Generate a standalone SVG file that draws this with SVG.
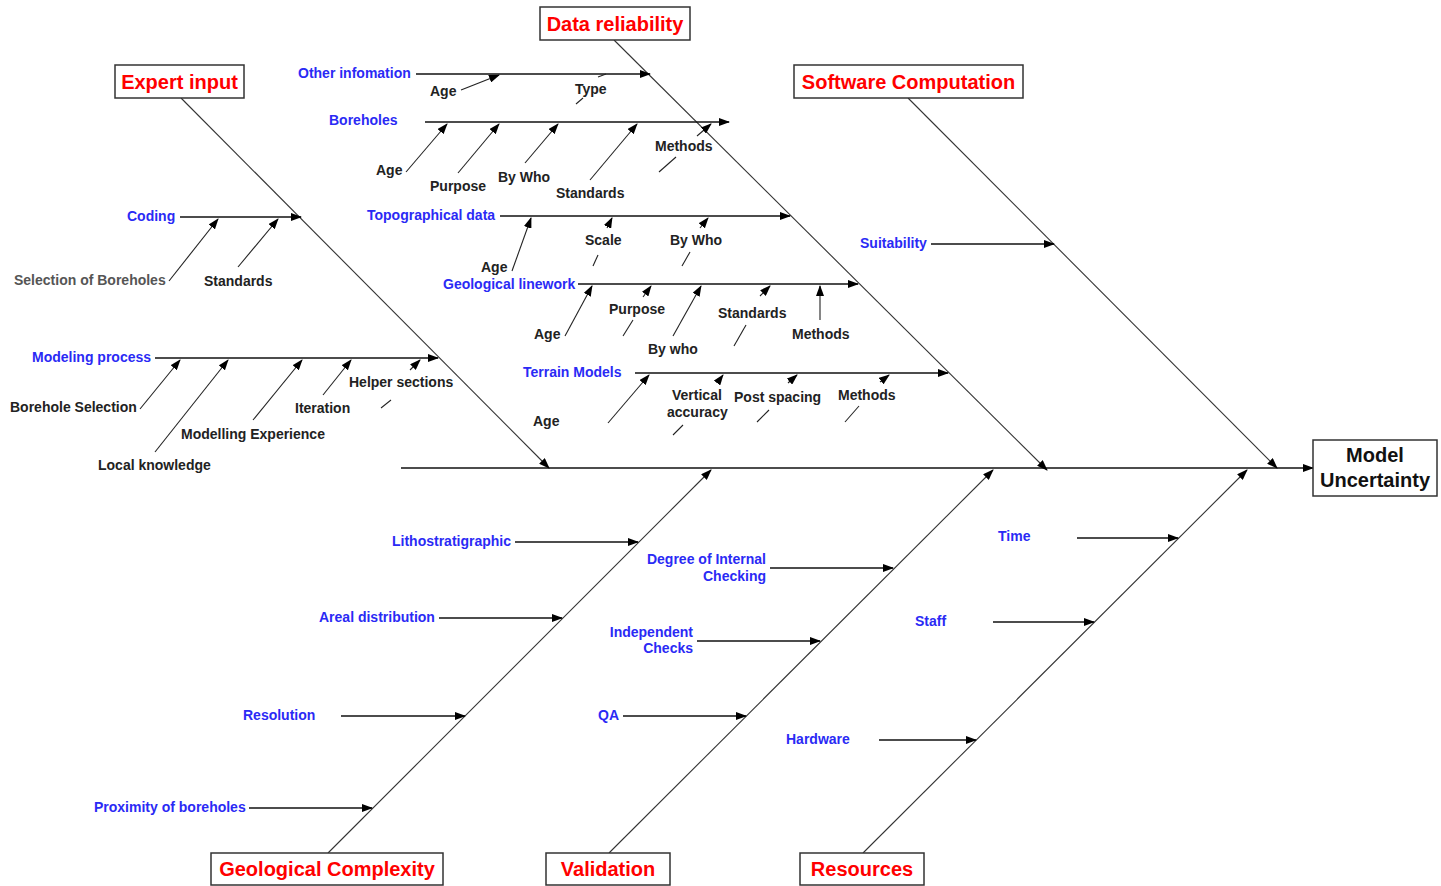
<svg xmlns="http://www.w3.org/2000/svg" width="1441" height="886" viewBox="0 0 1441 886">
<style>
.title{font-family:"Liberation Sans",Arial,sans-serif;font-size:20px;font-weight:bold;fill:#f00;text-anchor:middle}
.box{fill:#fff;stroke:#333;stroke-width:1.5}
.mu{font-family:"Liberation Sans",Arial,sans-serif;font-size:20px;font-weight:bold;fill:#111;text-anchor:middle}
.c{font-family:"Liberation Sans",Arial,sans-serif;font-size:14px;font-weight:bold;fill:#2a2af5}
.s{font-family:"Liberation Sans",Arial,sans-serif;font-size:14px;font-weight:bold;fill:#222}
.g{fill:#555}
.e{text-anchor:end}
.bone{stroke:#333;stroke-width:1.1;fill:none}
.br{stroke:#111;stroke-width:1.5;fill:none}
.sm{stroke:#222;stroke-width:1.1;fill:none}
</style>
<defs>
<marker id="ah" markerUnits="userSpaceOnUse" markerWidth="11" markerHeight="8" refX="10" refY="4" orient="auto">
<path d="M0,0 L11,4 L0,8 z" fill="#000"/>
</marker>
</defs>
<rect width="1441" height="886" fill="#fff"/>
<g id="connectors">
<line class="br" x1="401" y1="468" x2="1313" y2="468" marker-end="url(#ah)"/>
<line class="bone" x1="181" y1="98" x2="549" y2="468" marker-end="url(#ah)"/>
<line class="bone" x1="614" y1="40" x2="1047" y2="470" marker-end="url(#ah)"/>
<line class="bone" x1="908" y1="98" x2="1277" y2="468" marker-end="url(#ah)"/>
<line class="bone" x1="328" y1="853" x2="711" y2="470" marker-end="url(#ah)"/>
<line class="bone" x1="609" y1="853" x2="993" y2="470" marker-end="url(#ah)"/>
<line class="bone" x1="863" y1="853" x2="1247" y2="470" marker-end="url(#ah)"/>
<g marker-end="url(#ah)">
<line class="br" x1="180" y1="217" x2="301" y2="217"/>
<line class="br" x1="155" y1="358" x2="438" y2="358"/>
<line class="br" x1="416" y1="74" x2="650" y2="74"/>
<line class="br" x1="425" y1="122" x2="729" y2="122"/>
<line class="br" x1="500" y1="216" x2="790" y2="216"/>
<line class="br" x1="578" y1="284" x2="858" y2="284"/>
<line class="br" x1="635" y1="373" x2="948" y2="373"/>
<line class="br" x1="931" y1="244" x2="1054" y2="244"/>
<line class="br" x1="515" y1="542" x2="638" y2="542"/>
<line class="br" x1="439" y1="618" x2="562" y2="618"/>
<line class="br" x1="341" y1="716" x2="465" y2="716"/>
<line class="br" x1="249" y1="808" x2="372" y2="808"/>
<line class="br" x1="770" y1="568" x2="893" y2="568"/>
<line class="br" x1="697" y1="641" x2="820" y2="641"/>
<line class="br" x1="623" y1="716" x2="746" y2="716"/>
<line class="br" x1="1077" y1="538" x2="1178" y2="538"/>
<line class="br" x1="993" y1="622" x2="1094" y2="622"/>
<line class="br" x1="879" y1="740" x2="976" y2="740"/>
<line class="sm" x1="169" y1="281" x2="218" y2="219"/>
<line class="sm" x1="238" y1="267" x2="278" y2="219"/>
<line class="sm" x1="140" y1="409" x2="180" y2="360"/>
<line class="sm" x1="155" y1="452" x2="228" y2="360"/>
<line class="sm" x1="253" y1="420" x2="302" y2="360"/>
<line class="sm" x1="323" y1="395" x2="351" y2="360"/>
<line class="sm" x1="410" y1="370" x2="420" y2="360"/>
<line class="sm" x1="461" y1="90" x2="499" y2="75"/>
<line class="sm" x1="406" y1="172" x2="447" y2="124"/>
<line class="sm" x1="458" y1="173" x2="499" y2="124"/>
<line class="sm" x1="525" y1="163" x2="558" y2="124"/>
<line class="sm" x1="590" y1="180" x2="637" y2="124"/>
<line class="sm" x1="697" y1="136" x2="711" y2="124"/>
<line class="sm" x1="512" y1="271" x2="531" y2="218"/>
<line class="sm" x1="607" y1="228" x2="612" y2="218"/>
<line class="sm" x1="700" y1="228" x2="708" y2="218"/>
<line class="sm" x1="565" y1="336" x2="592" y2="286"/>
<line class="sm" x1="643" y1="297" x2="651" y2="286"/>
<line class="sm" x1="673" y1="336" x2="701" y2="286"/>
<line class="sm" x1="760" y1="296" x2="770" y2="286"/>
<line class="sm" x1="820" y1="320" x2="820" y2="286"/>
<line class="sm" x1="608" y1="423" x2="649" y2="375"/>
<line class="sm" x1="717" y1="383" x2="723" y2="375"/>
<line class="sm" x1="788" y1="383" x2="797" y2="375"/>
<line class="sm" x1="880" y1="382" x2="889" y2="375"/>
</g>
<line class="sm" x1="381" y1="408" x2="391" y2="400"/>
<line class="sm" x1="576" y1="104" x2="583" y2="98"/>
<line class="sm" x1="598" y1="77" x2="606" y2="74"/>
<line class="sm" x1="659" y1="172" x2="676" y2="157"/>
<line class="sm" x1="593" y1="266" x2="598" y2="255"/>
<line class="sm" x1="682" y1="266" x2="690" y2="252"/>
<line class="sm" x1="623" y1="336" x2="633" y2="320"/>
<line class="sm" x1="734" y1="346" x2="746" y2="325"/>
<line class="sm" x1="673" y1="435" x2="683" y2="425"/>
<line class="sm" x1="757" y1="422" x2="769" y2="410"/>
<line class="sm" x1="845" y1="422" x2="859" y2="406"/>
</g>
<g id="expert-input"><rect class="box" x="115" y="65" width="129" height="33"/><text class="title" x="179.5" y="89">Expert input</text></g>
<g id="data-reliability"><rect class="box" x="540" y="7" width="150" height="33"/><text class="title" x="615" y="31">Data reliability</text></g>
<g id="software-computation"><rect class="box" x="794" y="65" width="229" height="33"/><text class="title" x="908.5" y="89">Software Computation</text></g>
<g id="geological-complexity"><rect class="box" x="211" y="853" width="232" height="32"/><text class="title" x="327" y="876">Geological Complexity</text></g>
<g id="validation"><rect class="box" x="546" y="853" width="124" height="32"/><text class="title" x="608" y="876">Validation</text></g>
<g id="resources"><rect class="box" x="800" y="853" width="124" height="32"/><text class="title" x="862" y="876">Resources</text></g>
<g id="model-uncertainty"><rect class="box" x="1313" y="440" width="124" height="56"/><text class="mu" x="1375" y="462">Model</text><text class="mu" x="1375" y="487">Uncertainty</text></g>
<g id="expert-causes">
<text class="c" x="127" y="221">Coding</text>
<text class="s g" x="14" y="285">Selection of Boreholes</text>
<text class="s" x="204" y="286">Standards</text>
<text class="c" x="32" y="362">Modeling process</text>
<text class="s" x="10" y="412">Borehole Selection</text>
<text class="s" x="98" y="470">Local knowledge</text>
<text class="s" x="181" y="439">Modelling Experience</text>
<text class="s" x="295" y="413">Iteration</text>
<text class="s" x="349" y="387">Helper sections</text>
</g>
<g id="data-causes">
<text class="c" x="298" y="78">Other infomation</text>
<text class="s" x="430" y="96">Age</text>
<text class="s" x="575" y="94">Type</text>
<text class="c" x="329" y="125">Boreholes</text>
<text class="s" x="376" y="175">Age</text>
<text class="s" x="430" y="191">Purpose</text>
<text class="s" x="498" y="182">By Who</text>
<text class="s" x="556" y="198">Standards</text>
<text class="s" x="655" y="151">Methods</text>
<text class="c" x="367" y="220">Topographical data</text>
<text class="s" x="481" y="272">Age</text>
<text class="s" x="585" y="245">Scale</text>
<text class="s" x="670" y="245">By Who</text>
<text class="c" x="443" y="289">Geological linework</text>
<text class="s" x="534" y="339">Age</text>
<text class="s" x="609" y="314">Purpose</text>
<text class="s" x="648" y="354">By who</text>
<text class="s" x="718" y="318">Standards</text>
<text class="s" x="792" y="339">Methods</text>
<text class="c" x="523" y="377">Terrain Models</text>
<text class="s" x="533" y="426">Age</text>
<text class="s" x="672" y="400">Vertical</text>
<text class="s" x="667" y="417">accuracy</text>
<text class="s" x="734" y="402">Post spacing</text>
<text class="s" x="838" y="400">Methods</text>
</g>
<g id="software-causes"><text class="c" x="860" y="248">Suitability</text></g>
<g id="geology-causes">
<text class="c" x="392" y="546">Lithostratigraphic</text>
<text class="c" x="319" y="622">Areal distribution</text>
<text class="c" x="243" y="720">Resolution</text>
<text class="c" x="94" y="812">Proximity of boreholes</text>
</g>
<g id="validation-causes">
<text class="c e" x="766" y="564">Degree of Internal</text>
<text class="c e" x="766" y="581">Checking</text>
<text class="c e" x="693" y="637">Independent</text>
<text class="c e" x="693" y="653">Checks</text>
<text class="c" x="598" y="720">QA</text>
</g>
<g id="resources-causes">
<text class="c" x="998" y="541">Time</text>
<text class="c" x="915" y="626">Staff</text>
<text class="c" x="786" y="744">Hardware</text>
</g>
</svg>
